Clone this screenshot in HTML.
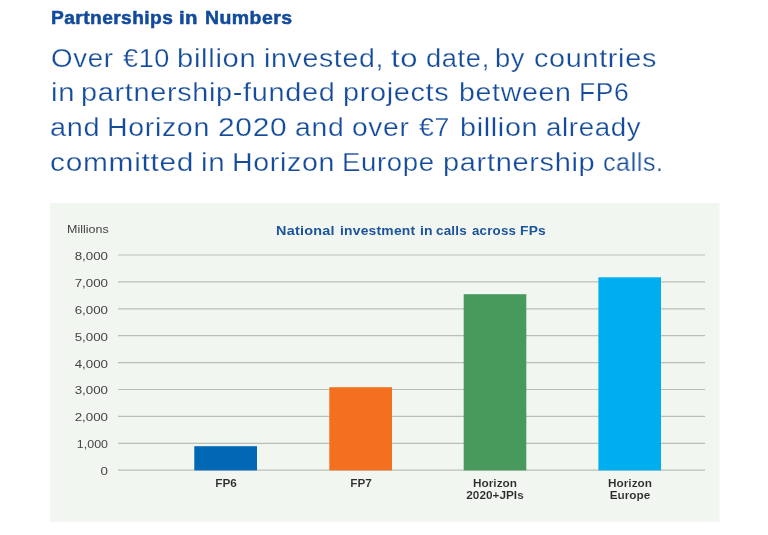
<!DOCTYPE html>
<html>
<head>
<meta charset="utf-8">
<style>
html,body{margin:0;padding:0;background:#fff;}
body{width:768px;height:535px;position:relative;overflow:hidden;font-family:"Liberation Sans",sans-serif;}
.abs{position:absolute;white-space:nowrap;will-change:transform;}
.tw{font-size:17.5px;letter-spacing:0.4px;font-weight:bold;color:#124a9c;line-height:20px;transform-origin:left center;-webkit-text-stroke:0.5px #124a9c;}
.hw{font-size:25.5px;letter-spacing:0.6px;color:#144b9b;line-height:30px;transform-origin:left center;-webkit-text-stroke:0.25px #fff;}
.yl{will-change:transform;position:absolute;left:50px;width:58px;text-align:right;font-size:11.8px;color:#444;line-height:14px;transform:scaleX(1.13);transform-origin:right center;}
.xl{-webkit-text-stroke:0.08px #f2f6f0;will-change:transform;position:absolute;font-size:10px;font-weight:bold;color:#2a2a2a;text-align:center;line-height:12.4px;width:120px;transform:scaleX(1.18);transform-origin:center center;}
.cw{font-size:13.3px;letter-spacing:0.2px;font-weight:bold;color:#1b539c;line-height:16px;transform-origin:left center;}
</style>
</head>
<body>
<!--TT-->
<div class="abs tw" style="left:50.73px;top:7.94px;transform:scaleX(1.0941)">Partnerships</div>
<div class="abs tw" style="left:179.35px;top:7.94px;transform:scaleX(1.1636)">in</div>
<div class="abs tw" style="left:204.91px;top:7.94px;transform:scaleX(1.1121)">Numbers</div>
<!--/TT-->
<!--HL-->
<div class="abs hw" style="left:50.84px;top:43.16px;transform:scaleX(1.0847)">Over</div>
<div class="abs hw" style="left:123.03px;top:43.16px;transform:scaleX(1.0612)">€10</div>
<div class="abs hw" style="left:177.40px;top:43.16px;transform:scaleX(1.1450)">billion</div>
<div class="abs hw" style="left:263.94px;top:43.16px;transform:scaleX(1.1173)">invested,</div>
<div class="abs hw" style="left:390.50px;top:43.16px;transform:scaleX(1.2146)">to</div>
<div class="abs hw" style="left:425.63px;top:43.16px;transform:scaleX(1.0691)">date,</div>
<div class="abs hw" style="left:495.02px;top:43.16px;transform:scaleX(1.0718)">by</div>
<div class="abs hw" style="left:534.37px;top:43.16px;transform:scaleX(1.1294)">countries</div>
<div class="abs hw" style="left:50.75px;top:77.16px;transform:scaleX(1.1441)">in</div>
<div class="abs hw" style="left:81.12px;top:77.16px;transform:scaleX(1.1316)">partnership-funded</div>
<div class="abs hw" style="left:343.22px;top:77.16px;transform:scaleX(1.1295)">projects</div>
<div class="abs hw" style="left:458.84px;top:77.16px;transform:scaleX(1.1192)">between</div>
<div class="abs hw" style="left:578.52px;top:77.16px;transform:scaleX(1.0378)">FP6</div>
<div class="abs hw" style="left:50.27px;top:112.16px;transform:scaleX(1.1341)">and</div>
<div class="abs hw" style="left:106.86px;top:112.16px;transform:scaleX(1.1179)">Horizon</div>
<div class="abs hw" style="left:217.53px;top:112.16px;transform:scaleX(1.1733)">2020</div>
<div class="abs hw" style="left:294.89px;top:112.16px;transform:scaleX(1.1122)">and</div>
<div class="abs hw" style="left:351.69px;top:112.16px;transform:scaleX(1.1060)">over</div>
<div class="abs hw" style="left:418.74px;top:112.16px;transform:scaleX(1.0436)">€7</div>
<div class="abs hw" style="left:459.73px;top:112.16px;transform:scaleX(1.1267)">billion</div>
<div class="abs hw" style="left:545.91px;top:112.16px;transform:scaleX(1.0852)">already</div>
<div class="abs hw" style="left:50.23px;top:147.16px;transform:scaleX(1.1716)">committed</div>
<div class="abs hw" style="left:201.37px;top:147.16px;transform:scaleX(1.1588)">in</div>
<div class="abs hw" style="left:232.36px;top:147.16px;transform:scaleX(1.1202)">Horizon</div>
<div class="abs hw" style="left:342.44px;top:147.16px;transform:scaleX(1.0809)">Europe</div>
<div class="abs hw" style="left:443.01px;top:147.16px;transform:scaleX(1.1358)">partnership</div>
<div class="abs hw" style="left:603.42px;top:147.16px;transform:scaleX(0.9801)">calls.</div>
<!--/HL-->

<svg id="chart" width="768" height="535" viewBox="0 0 768 535" style="position:absolute;left:0;top:0">
<rect x="50.2" y="203" width="669.2" height="318.9" fill="#f2f6f0"/>
<line x1="118" x2="705" y1="255.0" y2="255.0" stroke="#babfb8" stroke-width="1.2"/>
<line x1="118" x2="705" y1="281.9" y2="281.9" stroke="#babfb8" stroke-width="1.2"/>
<line x1="118" x2="705" y1="308.8" y2="308.8" stroke="#babfb8" stroke-width="1.2"/>
<line x1="118" x2="705" y1="335.7" y2="335.7" stroke="#babfb8" stroke-width="1.2"/>
<line x1="118" x2="705" y1="362.6" y2="362.6" stroke="#babfb8" stroke-width="1.2"/>
<line x1="118" x2="705" y1="389.5" y2="389.5" stroke="#babfb8" stroke-width="1.2"/>
<line x1="118" x2="705" y1="416.4" y2="416.4" stroke="#babfb8" stroke-width="1.2"/>
<line x1="118" x2="705" y1="443.3" y2="443.3" stroke="#babfb8" stroke-width="1.2"/>
<line x1="118" x2="705" y1="470.2" y2="470.2" stroke="#babfb8" stroke-width="1.2"/>
<rect x="194.3" y="446.2" width="62.7" height="24.2" fill="#0068b4"/>
<rect x="329.3" y="387.2" width="62.7" height="83.2" fill="#f37021"/>
<rect x="463.7" y="294.2" width="62.6" height="176.2" fill="#479a5c"/>
<rect x="598.4" y="277.3" width="62.6" height="193.1" fill="#00aeef"/>
</svg>
<div class="abs" id="mill" style="left:67.0px;top:221.9px;font-size:11.3px;color:#444;line-height:14px;transform:scaleX(1.105);transform-origin:left center;">Millions</div>
<!--CT-->
<div class="abs cw" style="left:275.99px;top:222.99px;transform:scaleX(1.0852)">National</div>
<div class="abs cw" style="left:339.66px;top:222.99px;transform:scaleX(1.0431)">investment</div>
<div class="abs cw" style="left:419.65px;top:222.99px;transform:scaleX(1.0537)">in</div>
<div class="abs cw" style="left:436.49px;top:222.99px;transform:scaleX(1.0120)">calls</div>
<div class="abs cw" style="left:471.60px;top:222.99px;transform:scaleX(0.9918)">across</div>
<div class="abs cw" style="left:519.62px;top:222.99px;transform:scaleX(1.0383)">FPs</div>
<!--/CT-->


<div class="yl" style="top:249.21px">8,000</div>
<div class="yl" style="top:276.04px">7,000</div>
<div class="yl" style="top:302.87px">6,000</div>
<div class="yl" style="top:329.70px">5,000</div>
<div class="yl" style="top:356.53px">4,000</div>
<div class="yl" style="top:383.36px">3,000</div>
<div class="yl" style="top:410.19px">2,000</div>
<div class="yl" style="top:437.02px;transform:scaleX(1.055)">1,000</div>
<div class="yl" style="top:463.85px">0</div>


<div class="xl" style="left:165.8px;top:477.5px">FP6</div>
<div class="xl" style="left:300.8px;top:477.5px">FP7</div>
<div class="xl" style="left:435px;top:477.5px">Horizon<br>2020+JPIs</div>
<div class="xl" style="left:569.7px;top:477.5px">Horizon<br>Europe</div>
</body>
</html>
